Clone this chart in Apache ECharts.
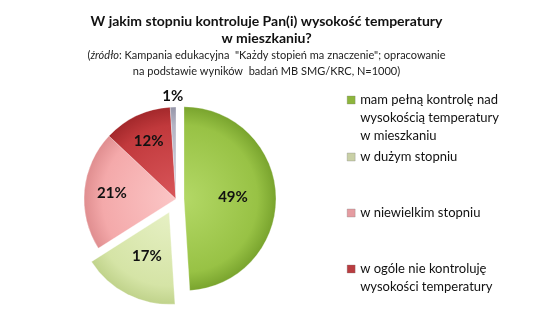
<!DOCTYPE html>
<html><head><meta charset="utf-8">
<script src="https://cdn.jsdelivr.net/npm/echarts@6/dist/echarts.min.js"></script>
<style>html,body{margin:0;background:#fff}#c{width:533px;height:325px}</style>
</head><body><div id="c"></div>
<script>
// ---- data ----
const categories = [
  'mam pełną kontrolę nad wysokością temperatury w mieszkaniu',
  'w dużym stopniu',
  'w niewielkim stopniu',
  'w ogóle nie kontroluję wysokości temperatury',
  'brak odpowiedzi'
];
const shares = [49, 17, 21, 12, 1];
const legendLines = [
  ['mam pełną kontrolę nad', 'wysokością temperatury', 'w mieszkaniu'],
  ['w dużym stopniu'],
  ['w niewielkim stopniu'],
  ['w ogóle nie kontroluję', 'wysokości temperatury']
];
const titleText = 'W jakim stopniu kontroluje Pan(i) wysokość temperatury\nw mieszkaniu?';
const subText = '({i|źródło}: Kampania edukacyjna  "Każdy stopień ma znaczenie"; opracowanie\nna podstawie wyników  badań MB SMG/KRC, N=1000)';

// ---- style ----
const palette = [
  ['#b3d866', '#98c245', '#6f9a26'],
  ['#e6f0c4', '#d5e4a6', '#b9cd82'],
  ['#fbc6c6', '#f4a9aa', '#d98587'],
  ['#d9565a', '#c1393c', '#9a2326'],
  ['#d6d6e0', '#b4b4c4', '#8c8ca0']
];
const legendColors = ['#8db53c', '#c9d0a6', '#e59ca1', '#b93c40'];
const CX = 176, CY = 199, R = 92;
const offsets = [8, 15, 0, 0, 0];
const FONT = 'Lato';
const LH = 18;

function grad(c) {
  return { type: 'radial', x: CX, y: CY, r: R + 6, global: true,
    colorStops: [{offset: 0, color: c[0]}, {offset: 0.75, color: c[1]}, {offset: 1, color: c[2]}] };
}
const total = shares.reduce((a, b) => a + b, 0);
function midAngle(i) {
  let s = 0; for (let k = 0; k < i; k++) s += shares[k];
  return (s + shares[i] / 2) / total * 2 * Math.PI;
}
function labelPos(i) {
  const a = midAngle(i);
  const dx = Math.sin(a), dy = -Math.cos(a);
  const f = i === 4 ? 1.12 : (i === 1 ? 0.76 : 0.70);
  const ox = offsets[i] * dx, oy = offsets[i] * dy;
  return { x: CX + ox + f * R * dx, y: CY + oy + f * R * dy, align: 'center', verticalAlign: 'middle' };
}

function makeSeries(visibleSet, offset) {
  return {
    type: 'pie', silent: true, legendHoverLink: false,
    center: [CX, CY], radius: [0, R], startAngle: 90, clockwise: true,
    selectedMode: 'multiple', selectedOffset: offset,
    label: { show: true, position: 'inside', fontFamily: FONT, fontWeight: 'bold', fontSize: 15, color: '#111',
      formatter: p => p.value + '%' },
    labelLine: { show: false },
    labelLayout: p => labelPos(p.dataIndex),
    emphasis: { disabled: true },
    data: categories.map((n, i) => {
      const vis = visibleSet.includes(i);
      return {
        name: n, value: shares[i], selected: vis && offsets[i] === offset && offset > 0,
        itemStyle: vis ? { color: grad(palette[i]), borderColor: 'rgba(255,255,255,0.6)', borderWidth: 0.5 }
                       : { color: 'rgba(0,0,0,0)', borderWidth: 0 },
        label: { show: vis }
      };
    })
  };
}

const legendTops = [100, 157, 213, 269];
const legends = legendLines.map((lines, i) => {
  const n = lines.length;
  const boxH = LH * (2 * n - 1);
  const txt = Array(n - 1).fill('').concat(lines).join('\n');
  return {
    left: 347, top: legendTops[i] - boxH / 2, padding: 0, orient: 'vertical',
    itemWidth: 8, itemHeight: 8, itemGap: 0, icon: 'rect', selectedMode: false,
    data: [{ name: categories[i], itemStyle: { color: legendColors[i], borderColor: '#777', borderWidth: 0.3 } }],
    formatter: () => txt,
    textStyle: { fontFamily: FONT, fontSize: 13, color: '#111', lineHeight: LH }
  };
});

const chart = echarts.init(document.getElementById('c'), null, { renderer: 'canvas' });
chart.setOption({
  animation: false,
  backgroundColor: '#fff',
  title: {
    text: titleText, subtext: subText, left: 'center', top: 13, itemGap: 0, padding: 0,
    textStyle: { fontFamily: FONT, fontWeight: 'bold', fontSize: 14, lineHeight: 17, color: '#111' },
    subtextStyle: { fontFamily: FONT, fontSize: 11, lineHeight: 16, color: '#222',
      rich: { i: { fontFamily: FONT, fontStyle: 'italic', fontSize: 11, color: '#222' } } }
  },
  legend: legends,
  series: [
    makeSeries([0, 2, 3, 4], 8),
    makeSeries([1], 15)
  ]
});
</script></body></html>
